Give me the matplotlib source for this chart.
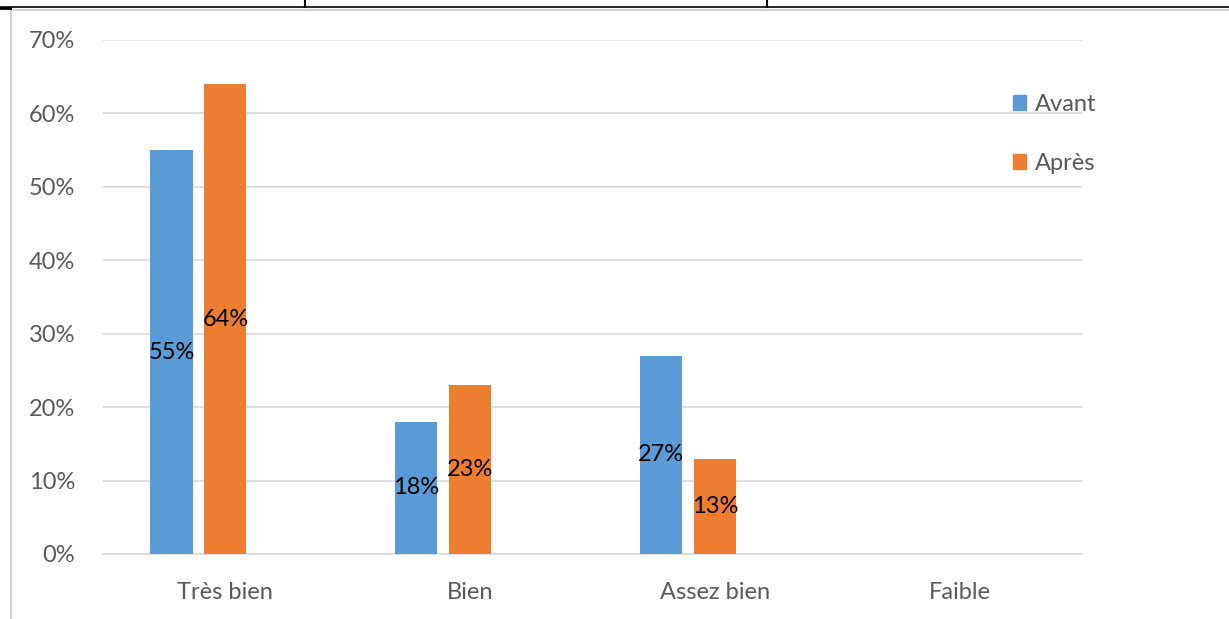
import matplotlib
matplotlib.use("Agg")
import matplotlib.pyplot as plt
from matplotlib.patches import Patch
from matplotlib.lines import Line2D
import numpy as np

categories = ["Très bien", "Bien", "Assez bien", "Faible"]
avant = [55, 18, 27, 0]
apres = [64, 23, 13, 0]
series_names = ["Avant", "Après"]
yticks = [0, 10, 20, 30, 40, 50, 60, 70]

BLUE = "#5B9BD5"
ORANGE = "#ED7D31"
GREY = "#595959"
GRID = "#D9D9D9"

plt.rcParams['font.family'] = ['Lato', 'DejaVu Sans']

W, H = 1229, 619
fig = plt.figure(figsize=(W / 100, H / 100), dpi=100)
ax = fig.add_axes([103 / W, 1 - 554 / H, (1082 - 103) / W, (554 - 40) / H])

x = np.arange(len(categories))
bw = 0.172
step = 0.22
vals_sets = [avant, apres]
colors = [BLUE, ORANGE]
for i, (vals, col, name) in enumerate(zip(vals_sets, colors, series_names)):
    pos = x + (i - 1) * step
    for xi, v in zip(pos, vals):
        if v > 0:
            ax.bar(xi, v, width=bw, color=col, zorder=3)
            ax.text(xi, v / 2, f"{v}%", ha="center", va="center",
                    fontsize=17, color="black", zorder=4)

ax.set_xlim(-0.5, len(categories) - 0.5)
ax.set_ylim(0, 70)
ax.set_yticks(yticks)
ax.set_yticklabels([f"{t}%" for t in yticks])
ax.set_xticks(x)
ax.set_xticklabels(categories)
ax.yaxis.grid(True, color=GRID, linewidth=1.2, zorder=0)
ax.set_axisbelow(True)
for s in ["top", "right", "left"]:
    ax.spines[s].set_visible(False)
ax.spines["bottom"].set_color(GRID)
ax.spines["bottom"].set_linewidth(1.2)
ax.tick_params(axis="both", length=0, labelsize=17, labelcolor=GREY)
ax.tick_params(axis="y", pad=20)
ax.tick_params(axis="x", pad=20)

handles = [Patch(facecolor=BLUE, edgecolor=BLUE), Patch(facecolor=ORANGE, edgecolor=ORANGE)]
fig.legend(handles, series_names, loc="upper left",
           bbox_to_anchor=(1013 / W, 1 - 94 / H), frameon=False,
           fontsize=17, labelcolor=GREY, handlelength=0.56, handleheight=0.56,
           handletextpad=0.35, labelspacing=1.6, borderpad=0, borderaxespad=0)

# chart frame and page table lines
fig.add_artist(Line2D([10.5 / W, 10.5 / W], [0, 1 - 9 / H], transform=fig.transFigure,
                      color="#D0D0D0", linewidth=1.5))
fig.add_artist(Line2D([10.5 / W, 1], [1 - 9.5 / H, 1 - 9.5 / H], transform=fig.transFigure,
                      color="#D0D0D0", linewidth=1.5))
fig.add_artist(Line2D([0, 1], [1 - 7 / H, 1 - 7 / H], transform=fig.transFigure,
                      color="black", linewidth=1.2))
fig.add_artist(Line2D([0, 10 / W], [1 - 8 / H, 1 - 8 / H], transform=fig.transFigure,
                      color="black", linewidth=2))
for xv in [305, 767]:
    fig.add_artist(Line2D([xv / W, xv / W], [1 - 7 / H, 1], transform=fig.transFigure,
                          color="black", linewidth=1.5))

fig.savefig("out.png", dpi=100)
